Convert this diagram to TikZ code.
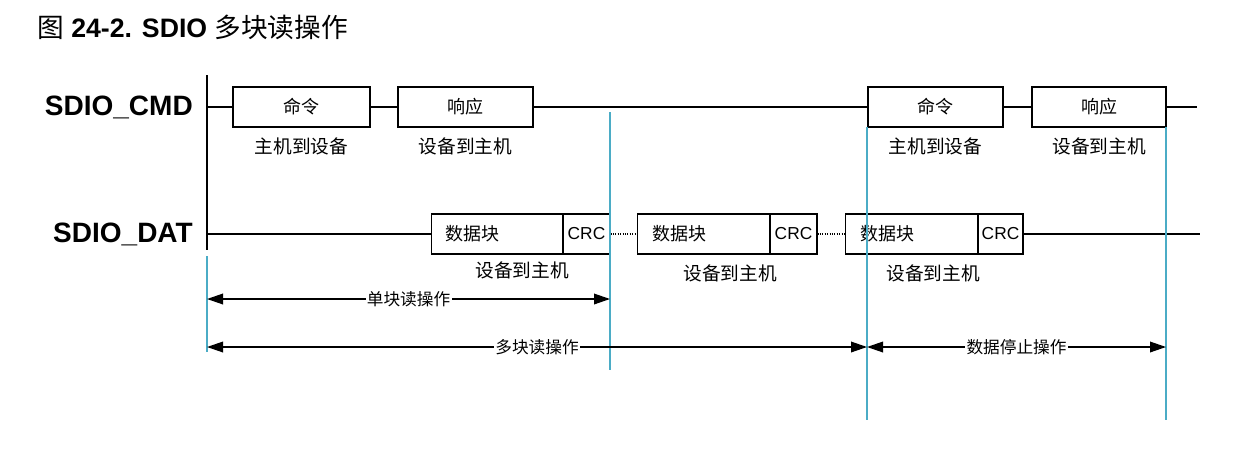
\documentclass[tikz,border=0pt]{standalone}
\usepackage{fontspec}
\setmainfont{Liberation Sans}
\newfontfamily\cjk{Noto Sans CJK SC}
\usetikzlibrary{arrows.meta}
\definecolor{cy}{HTML}{4BACC6}
\begin{document}
\begin{tikzpicture}[x=0.75pt,y=-0.75pt,
  box/.style={draw,line width=0.8pt,minimum height=30pt,inner sep=0pt,font=\cjk\fontsize{13.5}{13.5}\selectfont},
  crc/.style={box,font=\fontsize{13}{13}\selectfont},
  lab/.style={font=\cjk\fontsize{14}{14}\selectfont,inner sep=1pt},
  alab/.style={fill=white,inner sep=1pt,font=\cjk\fontsize{12.5}{12.5}\selectfont},
  sig/.style={font=\bfseries\fontsize{21}{21}\selectfont,anchor=east,inner sep=0pt},
  bl/.style={cy,line width=1pt},
  ar/.style={line width=1pt,{Triangle[length=12pt,width=8pt]}-{Triangle[length=12pt,width=8pt]}}]
\useasboundingbox (0,0) rectangle (1237,454);
\node[anchor=west,inner sep=0pt,font=\fontsize{20}{20}\selectfont] (title) at (37,27) {{\cjk 图} \textbf{24-2. SDIO} {\cjk 多块读操作}};
\coordinate (v1) at (207,75); \coordinate (v2) at (207,250);
\draw[line width=1pt] (v1) -- (v2);
\node[sig] (cmd) at (193,107) {SDIO\_CMD};
\node[sig] (dat) at (193,234) {SDIO\_DAT};
% CMD boxes
\node[box,minimum width=102.75pt] (c1) at (301.5,107) {命令};
\node[box,minimum width=101.25pt] (r1) at (465.5,107) {响应};
\node[box,minimum width=101.25pt] (c2) at (935.5,107) {命令};
\node[box,minimum width=100.5pt] (r2) at (1099,107) {响应};
\coordinate (cs) at (207,107); \coordinate (ce) at (1197,107);
\draw[line width=0.8pt] (cs) -- (c1.west) (c1.east) -- (r1.west) (r1.east) -- (c2.west) (c2.east) -- (r2.west) (r2.east) -- (ce);
\node[lab] (l1) at (301.5,146) {主机到设备};
\node[lab] (l2) at (465.5,146) {设备到主机};
\node[lab] (l3) at (935.5,146) {主机到设备};
\node[lab] (l4) at (1099,146) {设备到主机};
% DAT boxes
\node[box,minimum width=99pt,anchor=west,text width=90pt,align=left] (d1) at (431,234) {\hspace*{6pt}数据块};
\node[crc,minimum width=35.25pt] (k1) at (586.5,234) {CRC};
\node[box,minimum width=99.75pt,anchor=west,text width=90pt,align=left] (d2) at (637,234) {\hspace*{6pt}数据块};
\node[crc,minimum width=35.25pt] (k2) at (793.5,234) {CRC};
\node[box,minimum width=99.75pt,anchor=west,text width=90pt,align=left] (d3) at (845,234) {\hspace*{6pt}数据块};
\node[crc,minimum width=33.75pt] (k3) at (1000.5,234) {CRC};
\coordinate (ds) at (207,234); \coordinate (de) at (1200,234);
\draw[line width=0.8pt] (ds) -- (d1.west) (k3.east) -- (de);
\draw[line width=0.8pt,densely dotted] (k1.east) -- (d2.west) (k2.east) -- (d3.west);
\node[lab] (m1) at (522,270) {设备到主机};
\node[lab] (m2) at (730,273) {设备到主机};
\node[lab] (m3) at (933,273) {设备到主机};
% blue lines
\coordinate (b1a) at (207,256); \coordinate (b1b) at (207,352);
\coordinate (b2a) at (610,112); \coordinate (b2b) at (610,370);
\coordinate (b3a) at (867,127); \coordinate (b3b) at (867,420);
\coordinate (b4a) at (1166,127); \coordinate (b4b) at (1166,420);
\draw[bl] (b1a)--(b1b) (b2a)--(b2b) (b3a)--(b3b) (b4a)--(b4b);
% arrows
\coordinate (a1) at (207,299); \coordinate (a2) at (610,299);
\coordinate (a3) at (207,347); \coordinate (a4) at (867,347);
\coordinate (a5) at (867,347); \coordinate (a6) at (1166,347);
\draw[ar] (a1) -- node[alab] (s1) {单块读操作} (a2);
\draw[ar] (a3) -- node[alab,pos=0.5] (s2) {多块读操作} (a4);
\draw[ar] (a5) -- node[alab] (s3) {数据停止操作} (a6);
\end{tikzpicture}
\end{document}
